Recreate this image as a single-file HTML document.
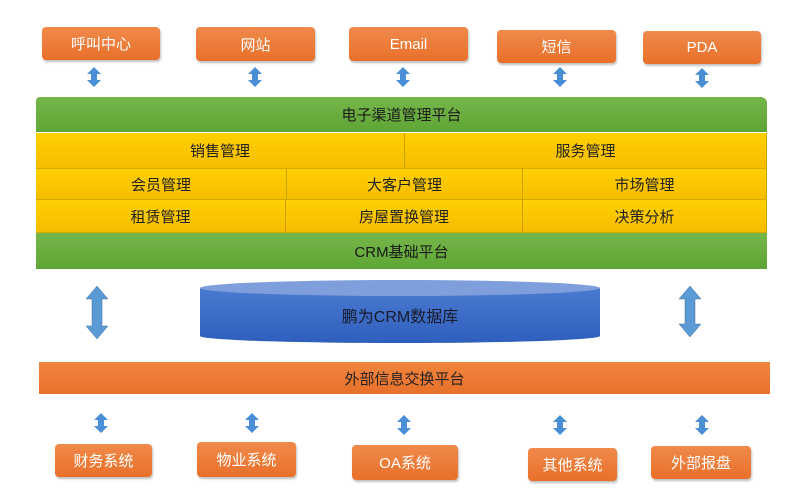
<!DOCTYPE html>
<html><head><meta charset="utf-8"><style>
body{margin:0;width:800px;height:499px;background:#fff;position:relative;overflow:hidden;font-family:"Liberation Sans","Noto Sans CJK SC",sans-serif;}
.b{position:absolute;display:flex;align-items:center;justify-content:center;box-sizing:border-box;}
.o{background:linear-gradient(#f08a4b,#e8702a);color:#fff;border-radius:4px;font-size:15px;box-shadow:1px 2px 2px rgba(0,0,0,.25);}
.g{background:linear-gradient(#76b64a,#5ea636);color:#1a1a1a;font-size:15px;}
.y{background:linear-gradient(#ffd000,#f5bd00);color:#222;font-size:15px;border-right:1px solid #c9a100;border-bottom:1px solid #d4aa00;}
svg{position:absolute;left:0;top:0;}
</style></head><body>
<div class="b o" style="left:42px;top:27px;width:118px;height:33px">呼叫中心</div>
<div class="b o" style="left:196px;top:27px;width:119px;height:34px">网站</div>
<div class="b o" style="left:349px;top:27px;width:119px;height:34px">Email</div>
<div class="b o" style="left:497px;top:30px;width:119px;height:33px">短信</div>
<div class="b o" style="left:643px;top:31px;width:118px;height:33px">PDA</div>

<div class="b g" style="left:36px;top:97px;width:731px;height:35px;border-radius:4px 6px 0 0">电子渠道管理平台</div>
<div class="b y" style="left:36px;top:133px;width:369px;height:36px">销售管理</div>
<div class="b y" style="left:405px;top:133px;width:362px;height:36px">服务管理</div>
<div class="b y" style="left:36px;top:169px;width:251px;height:31px">会员管理</div>
<div class="b y" style="left:287px;top:169px;width:236px;height:31px">大客户管理</div>
<div class="b y" style="left:523px;top:169px;width:244px;height:31px">市场管理</div>
<div class="b y" style="left:36px;top:200px;width:250px;height:33px">租赁管理</div>
<div class="b y" style="left:286px;top:200px;width:237px;height:33px">房屋置换管理</div>
<div class="b y" style="left:523px;top:200px;width:244px;height:33px">决策分析</div>
<div class="b g" style="left:36px;top:233px;width:731px;height:36px">CRM基础平台</div>

<svg width="800" height="499">
<defs>
<linearGradient id="cy" x1="0" y1="0" x2="0" y2="1"><stop offset="0" stop-color="#4a7ad0"/><stop offset="1" stop-color="#2f5fbd"/></linearGradient>
<g id="sa"><polygon points="0,-10 7,-3 3,-3 3,3 7,3 0,10 -7,3 -3,3 -3,-3 -7,-3" fill="#4a8fd6"/></g>
</defs>
<use href="#sa" x="94" y="77"/><use href="#sa" x="255" y="77"/><use href="#sa" x="403" y="77"/><use href="#sa" x="560" y="77"/><use href="#sa" x="702" y="78"/>
<use href="#sa" x="101" y="423"/><use href="#sa" x="252" y="423"/><use href="#sa" x="404" y="425"/><use href="#sa" x="560" y="425"/><use href="#sa" x="702" y="425"/>
<polygon points="97,286 108,299 102,299 102,326 108,326 97,339 86,326 92,326 92,299 86,299" fill="#5b9bd5" stroke="#41719c" stroke-width=".5"/>
<polygon points="690,286 701,299 695,299 695,324 701,324 690,337 679,324 685,324 685,299 679,299" fill="#5b9bd5" stroke="#41719c" stroke-width=".5"/>
<path d="M200,288 L200,336 A200,7 0 0 0 600,336 L600,288 Z" fill="url(#cy)"/>
<ellipse cx="400" cy="288" rx="200" ry="8" fill="#7f9fdc"/>
<text x="400" y="322" text-anchor="middle" font-size="16" fill="#1a1a2a" font-family="Liberation Sans,Noto Sans CJK SC,sans-serif">鹏为CRM数据库</text>
</svg>

<div class="b" style="left:39px;top:362px;width:731px;height:32px;background:linear-gradient(#f0853f,#e8702a);font-size:15px;color:#222">外部信息交换平台</div>

<div class="b o" style="left:55px;top:444px;width:97px;height:33px">财务系统</div>
<div class="b o" style="left:197px;top:442px;width:99px;height:35px">物业系统</div>
<div class="b o" style="left:352px;top:445px;width:106px;height:35px">OA系统</div>
<div class="b o" style="left:528px;top:448px;width:89px;height:33px">其他系统</div>
<div class="b o" style="left:651px;top:446px;width:100px;height:33px">外部报盘</div>
</body></html>
